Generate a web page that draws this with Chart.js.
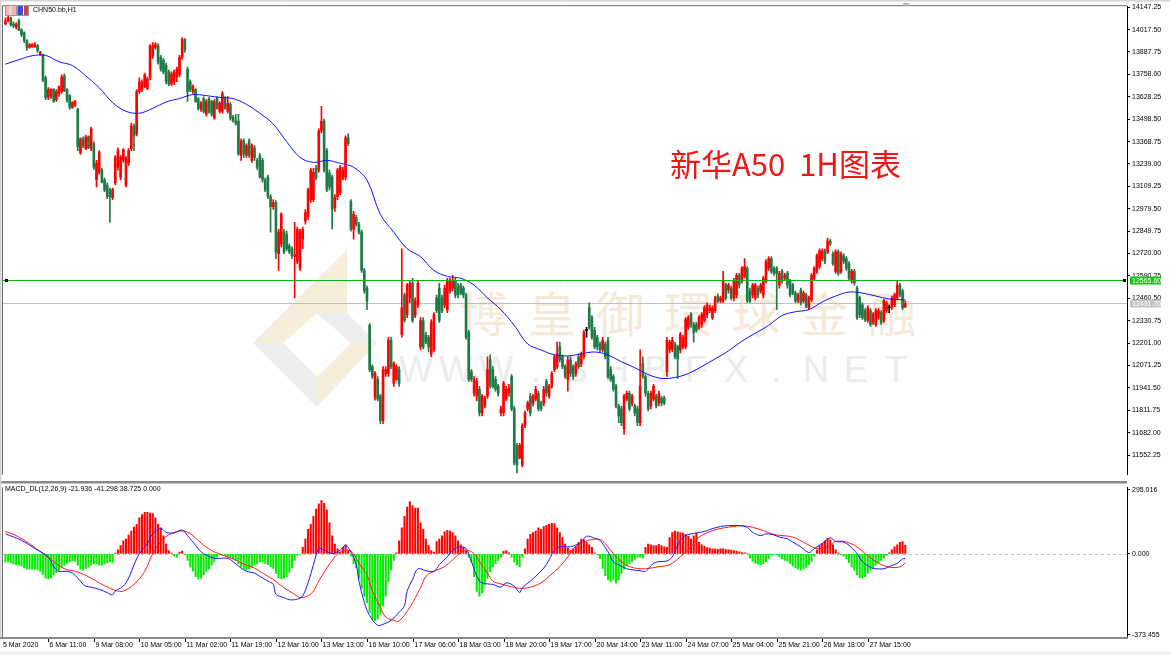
<!DOCTYPE html>
<html>
<head>
<meta charset="utf-8">
<title>CHN50 H1</title>
<script src="https://cdn.jsdelivr.net/npm/chart.js@4.4.1/dist/chart.umd.min.js"></script>
<style>
  html, body { margin: 0; padding: 0; }
  body { width: 1170px; height: 655px; overflow: hidden; position: relative; background: #fff; font-family: "Liberation Sans", Arial, sans-serif; }
  canvas { position: absolute; left: 0; z-index: 2; }
  #mainChart { top: 0; }
  #macdChart { top: 481px; }
  .wm { position: absolute; z-index: 1; display: flex; white-space: nowrap; }
  #wmName { left: 450px; top: 276px; }
  #wmName span { width: 68px; text-align: center; font: 48px "Noto Sans CJK TC", sans-serif; color: #f5e9da; }
  #wmSite { left: 396px; top: 349px; }
  #wmSite span { width: 40px; text-align: center; font: 36px "Liberation Sans", sans-serif; color: #ececec; }
  #symbol { position: absolute; left: 33px; top: 6px; font-size: 7px; color: #000; z-index: 3; }
  #macdLabel { position: absolute; left: 5px; top: 485px; font-size: 7px; color: #000; z-index: 3; }
  #title { position: absolute; left: 670px; top: 140px; font: 31px "Noto Sans CJK SC", sans-serif; color: #f21515; z-index: 3; white-space: pre; }
  .icon { position: absolute; top: 5px; width: 10px; height: 9px; border: 1px solid #9a9a9a; z-index: 3; }
  #icon1 { left: 5px; background: linear-gradient(90deg, #f4b4b4 0 30%, #d9d9ee 30% 60%, #f4b4b4 60%); }
  #icon2 { left: 17px; background: linear-gradient(90deg, #3b4ed8 0 45%, #ffffff 45% 55%, #d84040 55%); }
  #shift { position: absolute; left: 902px; top: 3px; width: 0; height: 0; border-left: 4px solid transparent; border-right: 4px solid transparent; border-top: 4px solid #b8b8b8; z-index: 3; }
  #bottomBand { position: absolute; left: 0; top: 651px; width: 1170px; height: 4px; background: #f0f0f0; }
</style>
</head>
<body>
<div class="wm" id="wmName"><span>博</span><span>皇</span><span>御</span><span>環</span><span>球</span><span>金</span><span>融</span></div>
<div class="wm" id="wmSite"><span>W</span><span>W</span><span>W</span><span>.</span><span>B</span><span>H</span><span>B</span><span>F</span><span>X</span><span>.</span><span>N</span><span>E</span><span>T</span></div>
<canvas id="mainChart" width="1170" height="481"></canvas>
<canvas id="macdChart" width="1170" height="174"></canvas>
<div class="icon" id="icon1"></div>
<div class="icon" id="icon2"></div>
<div id="symbol">CHN50.bb,H1</div>
<div id="shift"></div>
<div id="macdLabel">MACD_DL(12,26,9) -21.936 -41.298 38.725 0.000</div>
<div id="title">新华A50  1H图表</div>
<div id="bottomBand"></div>
<script>
// hourly candles, 5 Mar - 27 Mar 2020
const opens = [
  14050,14068,14085,14050,14033,14068,14016,13999,13954,13914,
  13919,13919,13925,13874,13874,13738,13624,13630,13670,13612,
  13647,13658,13749,13670,13635,13567,13578,13556,13305,13385,
  13328,13396,13328,13356,13146,13191,13203,13146,13117,13089,
  13044,13129,13220,13163,13260,13117,13243,13328,13459,13413,
  13658,13670,13687,13675,13738,13863,13914,13925,13857,13840,
  13811,13772,13703,13715,13743,13755,13857,13959,13789,13715,
  13658,13670,13618,13556,13618,13527,13618,13601,13504,13618,
  13544,13544,13618,13544,13584,13510,13487,13487,13288,13373,
  13288,13373,13260,13333,13260,13288,13260,13146,13163,13049,
  12992,13015,12719,12776,12844,12833,12765,12748,12702,12674,
  12634,12804,12907,12935,13032,13032,13214,13203,13430,13487,
  13316,13186,13163,12987,13049,13072,13157,13163,13390,13021,
  12861,12930,12890,12844,12622,12520,12304,12065,11888,11991,
  11894,11752,12025,12025,12218,11968,11991,12048,12252,12480,
  12366,12463,12548,12361,12423,12179,12332,12247,12235,12139,
  12162,12463,12520,12463,12423,12395,12503,12520,12565,12531,
  12537,12520,12480,12264,12036,11911,11894,11934,11797,11837,
  11894,12105,12048,11991,11951,11797,11797,11877,11911,12008,
  11820,11609,11536,11496,11723,11820,11894,11854,11877,11911,
  11854,11854,11980,11894,11951,12048,12065,12179,12122,12065,
  11991,12105,12065,12025,12122,12082,12122,12275,12406,12349,
  12275,12235,12196,12162,12196,12218,12048,12008,11951,11837,
  11820,11706,11877,11911,11854,11837,11820,11740,12082,12008,
  11911,11837,11877,11894,11854,11883,11883,12036,12162,12167,
  12196,12179,12162,12179,12179,12292,12366,12309,12309,12292,
  12309,12332,12366,12389,12349,12389,12474,12446,12446,12537,
  12509,12520,12463,12480,12594,12560,12588,12634,12503,12480,
  12463,12520,12503,12480,12560,12634,12691,12634,12634,12537,
  12617,12577,12605,12560,12537,12491,12446,12509,12446,12480,
  12406,12452,12577,12617,12645,12691,12736,12730,12793,12719,
  12617,12730,12617,12708,12691,12662,12560,12617,12520,12463,
  12423,12389,12332,12389,12321,12309,12349,12378,12332,12389,
  12406,12406,12423,12463,12537,12503,12412
];
const highs = [
  14085,14096,14090,14062,14056,14079,14022,14005,13959,13936,
  13936,13942,13931,13891,13874,13749,13681,13675,13675,13670,
  13692,13755,13761,13675,13641,13601,13607,13561,13390,13396,
  13407,13402,13453,13368,13260,13316,13214,13157,13129,13100,
  13100,13288,13333,13288,13328,13282,13328,13476,13470,13670,
  13738,13726,13766,13743,13931,13942,13942,13936,13868,13851,
  13823,13783,13772,13783,13800,13868,13971,13965,13800,13726,
  13698,13675,13624,13601,13630,13612,13624,13607,13612,13630,
  13601,13658,13630,13630,13595,13521,13527,13527,13385,13385,
  13356,13385,13356,13345,13271,13299,13271,13157,13174,13061,
  13032,13027,12861,12958,12861,12850,12776,12759,12901,12873,
  12861,12873,12975,13100,13214,13214,13231,13442,13573,13499,
  13328,13203,13174,13061,13214,13231,13220,13402,13413,13032,
  12964,12941,12901,12856,12634,12531,12315,12076,12036,12008,
  11905,12065,12065,12235,12235,12093,12076,12065,12748,12491,
  12548,12560,12577,12463,12560,12349,12349,12264,12247,12338,
  12378,12480,12548,12480,12537,12577,12577,12594,12577,12548,
  12548,12531,12491,12275,12048,12008,11997,11951,11905,11894,
  12122,12133,12065,12008,11962,11837,11980,11951,11962,12019,
  11837,11621,11621,11735,11809,11866,11911,11905,11951,11923,
  11866,11951,11991,11962,12036,12133,12207,12207,12133,12076,
  12122,12122,12076,12093,12139,12150,12275,12292,12435,12361,
  12292,12247,12207,12235,12207,12235,12065,12019,11962,11848,
  11837,11905,11923,11923,11905,11848,11837,12162,12122,12019,
  11923,11923,11962,11905,11923,11894,11894,12235,12218,12235,
  12207,12190,12264,12247,12349,12361,12378,12321,12321,12361,
  12378,12418,12435,12423,12418,12474,12486,12474,12617,12548,
  12548,12531,12577,12605,12605,12645,12691,12645,12520,12548,
  12548,12531,12548,12588,12685,12702,12702,12645,12645,12617,
  12628,12605,12617,12571,12548,12503,12491,12520,12503,12491,
  12474,12605,12645,12719,12748,12748,12748,12810,12804,12730,
  12742,12742,12730,12719,12702,12674,12628,12628,12531,12474,
  12435,12401,12418,12401,12378,12401,12401,12389,12457,12446,
  12423,12474,12491,12560,12548,12514,12446
];
const lows = [
  14045,14062,14039,14028,14022,14011,13976,13942,13897,13908,
  13914,13914,13885,13868,13715,13612,13612,13618,13595,13601,
  13630,13647,13658,13595,13556,13561,13573,13316,13294,13333,
  13322,13328,13316,13208,13106,13180,13129,13078,13038,12901,
  13032,13117,13203,13146,13248,13106,13231,13316,13316,13402,
  13647,13658,13681,13670,13726,13851,13903,13817,13777,13760,
  13703,13692,13692,13698,13715,13743,13846,13885,13601,13658,
  13647,13595,13550,13544,13533,13516,13533,13516,13499,13556,
  13533,13533,13556,13533,13493,13481,13464,13288,13260,13277,
  13277,13277,13248,13260,13208,13157,13134,13078,13038,12844,
  12975,12691,12622,12759,12719,12736,12719,12691,12463,12662,
  12622,12748,12890,12918,13015,13021,13146,13191,13419,13191,
  13078,13089,12861,12964,13032,13061,13146,13146,13345,12850,
  12804,12879,12833,12611,12491,12395,12036,11997,11871,11866,
  11735,11735,12008,12008,12053,11951,11985,11951,12235,12321,
  12349,12435,12321,12349,12406,12162,12167,12196,12150,12122,
  12150,12378,12321,12378,12406,12378,12491,12503,12463,12463,
  12480,12463,12224,11980,11980,11894,11866,11780,11780,11826,
  11883,11940,11940,11923,11894,11780,11780,11866,11894,11809,
  11496,11450,11530,11484,11712,11809,11780,11837,11866,11809,
  11809,11837,11894,11883,11940,12036,12053,12093,12053,11997,
  11923,12008,11991,12008,12053,12065,12110,12235,12281,12224,
  12167,12162,12150,12150,12110,11997,11980,11923,11826,11740,
  11723,11672,11866,11809,11837,11780,11723,11723,11997,11894,
  11809,11820,11866,11826,11837,11837,11843,12008,12145,12150,
  12110,11997,12145,12167,12167,12281,12292,12207,12264,12281,
  12292,12321,12349,12378,12338,12378,12435,12435,12435,12452,
  12491,12452,12446,12463,12520,12548,12577,12435,12435,12463,
  12452,12463,12491,12463,12548,12622,12605,12594,12395,12520,
  12548,12565,12520,12469,12480,12435,12435,12423,12435,12406,
  12395,12440,12565,12605,12634,12679,12662,12719,12765,12651,
  12605,12594,12605,12662,12622,12565,12548,12537,12338,12349,
  12338,12326,12321,12298,12309,12298,12338,12309,12321,12378,
  12378,12395,12412,12452,12469,12395,12406
];
const closes = [
  14068,14085,14045,14039,14050,14016,13988,13954,13914,13931,
  13931,13931,13897,13885,13726,13624,13670,13670,13601,13658,
  13687,13743,13664,13607,13567,13595,13601,13339,13385,13345,
  13396,13333,13442,13220,13243,13305,13134,13089,13049,13049,
  13089,13277,13316,13277,13322,13271,13316,13459,13402,13658,
  13715,13715,13755,13732,13920,13925,13931,13829,13789,13772,
  13715,13703,13760,13772,13789,13857,13959,13903,13658,13670,
  13687,13601,13561,13590,13544,13601,13544,13527,13601,13561,
  13590,13647,13561,13590,13504,13487,13476,13299,13373,13299,
  13345,13288,13345,13277,13220,13163,13146,13089,13049,12992,
  13015,12730,12844,12947,12730,12748,12730,12708,12713,12861,
  12850,12861,12958,13089,13203,13191,13157,13430,13487,13203,
  13089,13106,12975,13049,13203,13220,13203,13390,13356,12861,
  12947,12890,12844,12622,12503,12446,12048,12008,12025,11877,
  11752,12048,12048,12218,12065,12082,12065,11968,12406,12332,
  12537,12548,12332,12446,12548,12332,12179,12207,12179,12321,
  12366,12389,12332,12389,12520,12565,12565,12565,12480,12480,
  12491,12480,12235,11991,11991,11991,11980,11797,11894,11883,
  12048,11951,11951,11934,11911,11820,11968,11934,11940,11820,
  11507,11496,11609,11723,11797,11854,11797,11894,11934,11820,
  11820,11934,11911,11951,12025,12122,12139,12105,12065,12008,
  12105,12025,12008,12082,12065,12139,12264,12275,12292,12235,
  12179,12179,12162,12218,12122,12008,11991,11934,11837,11780,
  11740,11894,11911,11820,11894,11797,11740,11951,12008,11911,
  11820,11911,11951,11837,11911,11854,11854,12218,12207,12218,
  12122,12110,12252,12235,12338,12349,12309,12264,12275,12349,
  12366,12406,12423,12406,12406,12463,12446,12463,12560,12463,
  12537,12463,12560,12594,12537,12634,12645,12446,12446,12537,
  12537,12480,12537,12577,12674,12691,12617,12605,12605,12605,
  12560,12594,12537,12480,12491,12446,12480,12435,12491,12418,
  12463,12594,12634,12708,12736,12736,12674,12793,12776,12662,
  12730,12605,12719,12674,12634,12577,12617,12548,12349,12366,
  12349,12338,12406,12309,12366,12389,12389,12321,12446,12435,
  12406,12463,12480,12537,12480,12406,12431.7
];

// blue moving average, read at every fifth bar
const maBars = [
  0,5,10,15,20,25,30,35,40,45, 50,55,60,65,70,75,80,85,90,95,
  100,105,110,115,120,125,130,135,140,145, 150,155,160,165,170,175,180,185,190,195,
  200,205,210,215,220,225,230,235,240,245, 250,255,260,265,270,275,280,285,290,295,
  300,305,310,315,320,325,330,335,336
];
const maValues = [
  13817,13843,13866,13868,13831,13809,13749,13681,13595,13544,
  13533,13561,13598,13618,13641,13635,13624,13618,13584,13533,
  13470,13368,13277,13248,13260,13243,13220,13146,12947,12844,
  12748,12702,12622,12588,12577,12537,12463,12395,12304,12196,
  12162,12133,12127,12139,12150,12133,12093,12059,12019,11997,
  12002,12025,12065,12110,12156,12213,12258,12304,12361,12383,
  12395,12440,12474,12497,12491,12474,12457,12452,12452
];

// MACD line (blue) and signal line (red)
const difBars = [
  0,6,11,16,18,20,23,25,27,29, 30,32,35,38,40,41,44,46,48,50,
  53,55,58,60,63,66,68,71,73,75, 78,80,83,85,88,90,93,95,98,100,
  101,104,106,109,111,113,115,117,119,122, 125,127,129,131,132,134,136,139,141,144,
  147,149,150,152,154,157,160,162,165,167, 170,172,174,177,180,182,185,187,190,192,
  193,196,198,201,203,205,207,210,212,215, 217,220,222,225,227,229,232,234,237,239,
  240,242,244,247,249,251,253,256,258,261, 263,267,270,274,277,279,282,284,287,289,
  292,294,297,300,302,305,308,310,313,315, 318,320,323,325,328,330,333,335,336
];
const difValues = [
  92,62,24,-14,-59,-81,-81,-89,-112,-141, -149,-154,-164,-179,-190,-172,-149,-112,-51,1,
  47,92,117,99,96,110,84,39,9,-6, -21,-21,-21,-36,-66,-81,-89,-104,-126,-141,
  -187,-202,-212,-209,-194,-134,-51,24,17,1, 17,39,9,-51,-126,-224,-285,-330,-325,-307,
  -270,-239,-172,-119,-69,-78,-81,-51,-14,17, 32,24,-36,-126,-139,-141,-154,-134,-149,-179,
  -157,-126,-104,-66,-28,17,32,32,36,54, 81,72,62,9,-36,-51,-69,-74,-78,-81,
  -69,-44,-36,-33,-14,39,77,92,96,103, 112,126,130,130,122,99,84,92,87,77,
  69,54,32,6,24,47,74,57,54,39, 1,-36,-63,-69,-69,-59,-44,-24,-21.936
];
const deaBars = [
  0,4,9,14,18,22,27,32,35,39, 42,44,48,52,55,59,63,67,70,74,
  78,81,85,89,93,96,100,104,108,110, 113,115,117,120,123,125,128,130,132,135,
  137,140,142,145,147,151,155,157,160,164, 167,170,172,175,177,180,182,185,188,192,
  196,200,203,207,210,212,216,219,222,224, 227,230,233,237,241,244,248,252,256,259,
  264,268,272,275,279,283,287,290,294,299, 303,307,310,314,318,321,325,329,333,335,336
];
const deaValues = [
  103,84,47,1,-36,-69,-84,-112,-134,-159, -172,-172,-141,-81,1,69,99,104,84,39,
  9,-6,-24,-48,-66,-89,-119,-157,-187,-202, -194,-172,-126,-66,-14,9,17,1,-44,-96,
  -172,-247,-292,-307,-310,-247,-157,-104,-81,-59, -28,6,17,1,-36,-89,-126,-139,-149,-159,
  -154,-134,-104,-59,-14,24,54,66,66,47, 1,-36,-59,-69,-66,-59,-51,-14,32,77,
  107,119,126,130,122,107,89,84,77,47, 24,32,57,54,32,1,-36,-59,-63,-54,-41.298
];
// histogram, one value per bar
const histValues = [
  -38,-38,-42,-47,-50,-53,-57,-65,-71,-71,
  -71,-71,-74,-80,-95,-113,-116,-110,-98,-87,
  -75,-63,-53,-44,-38,-32,-35,-53,-71,-75,
  -68,-62,-53,-45,-45,-53,-53,-47,-42,-38,
  -41,3,18,38,60,68,86,105,123,136,
  166,181,191,191,188,185,166,136,120,83,
  45,15,3,-11,-15,8,12,-5,-30,-60,
  -80,-105,-116,-113,-98,-80,-71,-53,-35,-15,
  -5,-5,-8,-14,-17,-23,-29,-45,-60,-71,
  -75,-71,-62,-53,-45,-38,-38,-44,-50,-59,
  -68,-90,-110,-116,-113,-105,-86,-65,-30,-8,
  -3,30,68,113,136,173,206,230,245,233,
  203,143,83,45,23,8,30,41,15,-11,
  -45,-65,-113,-158,-196,-226,-271,-301,-309,-301,
  -279,-241,-196,-128,-75,-30,5,60,120,173,
  215,241,221,211,211,143,113,68,38,15,
  8,56,68,83,101,108,105,98,83,60,
  41,30,11,-15,-38,-105,-173,-196,-181,-143,
  -113,-83,-60,-45,-30,-15,11,15,5,-15,
  -38,-53,-60,-15,23,68,90,98,105,120,
  113,125,131,136,140,139,120,98,75,45,
  26,15,23,35,53,68,65,53,41,30,
  5,-5,-23,-68,-101,-120,-128,-122,-136,-120,
  -90,-71,-56,-45,-38,-26,-17,-15,-20,30,
  45,41,38,38,44,38,32,30,75,98,
  105,101,98,95,90,80,68,83,95,53,
  41,35,29,26,23,23,21,23,23,20,
  18,17,15,12,9,6,5,0,-20,-35,
  -44,-48,-50,-45,-38,-23,-8,-3,-5,-15,
  -23,-30,-35,-45,-56,-65,-71,-75,-71,-63,
  -50,-35,-11,18,38,50,60,71,65,41,
  18,5,-5,-11,-23,-41,-60,-75,-98,-110,
  -113,-105,-90,-75,-65,-53,-41,-30,-20,-8,
  5,18,32,41,53,56,38.725
];

const priceTicks = [14147.25,14017.50,13887.75,13758.00,13628.25,13498.50,13368.75,13239.00,13109.25,12979.50,12849.75,
  12720.00,12590.25,12460.50,12330.75,12201.00,12071.25,11941.50,11811.75,11682.00,11552.25];
const macdTicks = [295.016, 0, -373.455];
const timeBars = [16,33,50,67,84,101,118,135,152,169,186,203,220,237,254,271,288,305,322];
const timeLabels = ['6 Mar 11:00','9 Mar 08:00','10 Mar 05:00','11 Mar 02:00','11 Mar 19:00','12 Mar 16:00',
  '13 Mar 13:00','16 Mar 10:00','17 Mar 06:00','18 Mar 03:00','18 Mar 20:00','19 Mar 17:00','20 Mar 14:00',
  '23 Mar 11:00','24 Mar 07:00','25 Mar 04:00','25 Mar 21:00','26 Mar 18:00','27 Mar 15:00'];
const firstLabel = '5 Mar 2020';
const levelLine = 12565.60;
const bidLine = 12431.70;

const N = Math.min(opens.length, highs.length, lows.length, closes.length);
const UP = '#ff0000', DOWN = '#1e7b45', FLAT = '#000000';
const AXIS_FONT = { family: 'Liberation Sans', size: 7 };
const X_MIN = -0.915, X_MAX = 418.8;

const candleColors = [];
const bodyData = [], wickData = [];
for (let i = 0; i < N; i++) {
  const o = opens[i], c = closes[i];
  candleColors.push(c > o ? UP : (c < o ? DOWN : FLAT));
  bodyData.push({ x: i, y: [o, c] });
  wickData.push({ x: i, y: [Math.min(lows[i], o, c), Math.max(highs[i], o, c)] });
}
const maData = maBars.map((b, k) => ({ x: b, y: maValues[k] }));
const difData = difBars.map((b, k) => ({ x: b, y: difValues[k] }));
const deaData = deaBars.map((b, k) => ({ x: b, y: deaValues[k] }));
const histData = histValues.map((v, i) => ({ x: i, y: v }));

// frame, level lines, logo and price tags of the main panel
const mainDecor = {
  id: 'mainDecor',
  beforeDatasetsDraw(chart) {
    const { ctx, chartArea: a, scales: { y } } = chart;
    ctx.save();
    // watermark logo
    ctx.fillStyle = 'rgba(238, 214, 176, 0.45)';
    ctx.beginPath();
    ctx.moveTo(253, 343); ctx.lineTo(347, 250); ctx.lineTo(347, 313); ctx.lineTo(317, 313); ctx.lineTo(283, 343);
    ctx.closePath(); ctx.fill();
    ctx.beginPath();
    ctx.moveTo(317, 407); ctx.lineTo(317, 377); ctx.lineTo(351, 343); ctx.lineTo(377, 343);
    ctx.closePath(); ctx.fill();
    ctx.fillStyle = 'rgba(222, 222, 222, 0.5)';
    ctx.beginPath();
    ctx.moveTo(253, 343); ctx.lineTo(283, 343); ctx.lineTo(317, 377); ctx.lineTo(317, 407);
    ctx.closePath(); ctx.fill();
    ctx.beginPath();
    ctx.moveTo(317, 313); ctx.lineTo(347, 313); ctx.lineTo(377, 343); ctx.lineTo(351, 343);
    ctx.closePath(); ctx.fill();
    // bid line
    const by = Math.round(y.getPixelForValue(bidLine)) + 0.5;
    ctx.strokeStyle = '#c0c0c0'; ctx.lineWidth = 1;
    ctx.beginPath(); ctx.moveTo(a.left, by); ctx.lineTo(a.right, by); ctx.stroke();
    ctx.restore();
  },
  afterDraw(chart) {
    const { ctx, chartArea: a, scales: { y } } = chart;
    ctx.save();
    // horizontal level
    const ly = Math.round(y.getPixelForValue(levelLine)) + 0.5;
    ctx.strokeStyle = '#11b511'; ctx.lineWidth = 1;
    ctx.beginPath(); ctx.moveTo(a.left, ly); ctx.lineTo(a.right - 3, ly); ctx.stroke();
    ctx.fillStyle = '#000';
    ctx.fillRect(a.left + 2, ly - 1.5, 3, 3);
    ctx.fillRect(a.right - 4, ly - 1.5, 3, 3);
    // frame
    ctx.strokeStyle = '#6e6e6e';
    ctx.beginPath();
    ctx.moveTo(a.left - 0.5, a.bottom); ctx.lineTo(a.left - 0.5, a.top - 0.5); ctx.lineTo(a.right, a.top - 0.5);
    ctx.stroke();
    ctx.fillStyle = '#d4d4d4';
    ctx.fillRect(0, 0, 1170, 1.5);
    ctx.fillRect(0, 0, 1.5, 481);
    // price tags
    ctx.font = '7px "Liberation Sans"';
    ctx.textBaseline = 'middle';
    const tags = [[levelLine, '#16c316', ly], [bidLine, '#c4c4c4', Math.round(y.getPixelForValue(bidLine)) + 0.5]];
    tags.forEach(([v, col, py]) => {
      ctx.fillStyle = col;
      ctx.fillRect(a.right + 3, py - 4, 31, 8);
      ctx.fillStyle = '#fff';
      ctx.fillText(v.toFixed(2), a.right + 5, py + 0.5);
    });
    ctx.restore();
  }
};

// separators, zero level and time scale of the MACD panel
const macdDecor = {
  id: 'macdDecor',
  beforeDatasetsDraw(chart) {
    const { ctx, chartArea: a, scales: { y } } = chart;
    const zy = Math.round(y.getPixelForValue(0)) + 0.5;
    ctx.save();
    ctx.strokeStyle = '#bdbdbd'; ctx.setLineDash([3, 3]); ctx.lineWidth = 1;
    ctx.beginPath(); ctx.moveTo(a.left, zy); ctx.lineTo(a.right, zy); ctx.stroke();
    ctx.restore();
  },
  afterDraw(chart) {
    const { ctx, chartArea: a, scales: { x } } = chart;
    ctx.save();
    ctx.fillStyle = '#8a8a8a';
    ctx.fillRect(0, 0, a.right, 2.5);
    ctx.fillRect(0, a.bottom, a.right + 1, 2);
    ctx.fillStyle = '#d4d4d4';
    ctx.fillRect(0, 0, 1.5, a.bottom);
    ctx.strokeStyle = '#6e6e6e'; ctx.lineWidth = 1;
    ctx.beginPath(); ctx.moveTo(a.left - 0.5, a.top); ctx.lineTo(a.left - 0.5, a.bottom); ctx.stroke();
    // time axis
    ctx.strokeStyle = '#000'; ctx.fillStyle = '#000';
    ctx.font = '7px "Liberation Sans"';
    ctx.textBaseline = 'middle'; ctx.textAlign = 'left';
    const ty = a.bottom + 8.5;
    ctx.fillText(firstLabel, a.left, ty);
    timeBars.forEach((b, k) => {
      const px = Math.round(x.getPixelForValue(b)) + 0.5;
      ctx.beginPath(); ctx.moveTo(px, a.bottom + 2); ctx.lineTo(px, a.bottom + 5); ctx.stroke();
      ctx.fillText(timeLabels[k], px + 1, ty);
    });
    ctx.restore();
  }
};

const xScale = { type: 'linear', min: X_MIN, max: X_MAX, display: false, offset: false };

new Chart(document.getElementById('mainChart'), {
  type: 'bar',
  data: {
    datasets: [
      { type: 'line', data: maData, borderColor: '#1010ff', borderWidth: 1, pointRadius: 0, tension: 0.35, order: 1 },
      { data: bodyData, backgroundColor: candleColors, barThickness: 2, minBarLength: 1, grouped: false, order: 2 },
      { data: wickData, backgroundColor: candleColors, barThickness: 1, grouped: false, order: 3 }
    ]
  },
  options: {
    responsive: false, animation: false, events: [],
    layout: { padding: { left: 3, top: 3, right: 0, bottom: 1 } },
    plugins: { legend: { display: false }, tooltip: { enabled: false } },
    scales: {
      x: xScale,
      y: {
        position: 'right', min: 11438.4, max: 14152.9,
        afterBuildTicks: s => { s.ticks = priceTicks.map(v => ({ value: v })); },
        afterFit: s => { s.width = 43; },
        ticks: { font: AXIS_FONT, color: '#000', padding: 2, autoSkip: false, callback: v => v.toFixed(2) },
        grid: { drawOnChartArea: false, tickLength: 3, color: '#000' },
        border: { color: '#000' }
      }
    }
  },
  plugins: [mainDecor]
});

new Chart(document.getElementById('macdChart'), {
  type: 'bar',
  data: {
    datasets: [
      { type: 'line', data: difData, borderColor: '#1a1aff', borderWidth: 1, pointRadius: 0, tension: 0.35, order: 1 },
      { type: 'line', data: deaData, borderColor: '#ff1a1a', borderWidth: 1, pointRadius: 0, tension: 0.35, order: 2 },
      { data: histData, backgroundColor: histValues.map(v => v >= 0 ? '#ff0000' : '#00ee00'), barThickness: 1.4, grouped: false, order: 3 }
    ]
  },
  options: {
    responsive: false, animation: false, events: [],
    layout: { padding: { left: 3, top: 3, right: 0, bottom: 18 } },
    plugins: { legend: { display: false }, tooltip: { enabled: false } },
    scales: {
      x: xScale,
      y: {
        position: 'right', min: -383.8, max: 307.2,
        afterBuildTicks: s => { s.ticks = macdTicks.map(v => ({ value: v })); },
        afterFit: s => { s.width = 43; },
        ticks: { font: AXIS_FONT, color: '#000', padding: 2, autoSkip: false, callback: v => v.toFixed(3) },
        grid: { drawOnChartArea: false, tickLength: 3, color: '#000' },
        border: { color: '#000' }
      }
    }
  },
  plugins: [macdDecor]
});
</script>
</body>
</html>
